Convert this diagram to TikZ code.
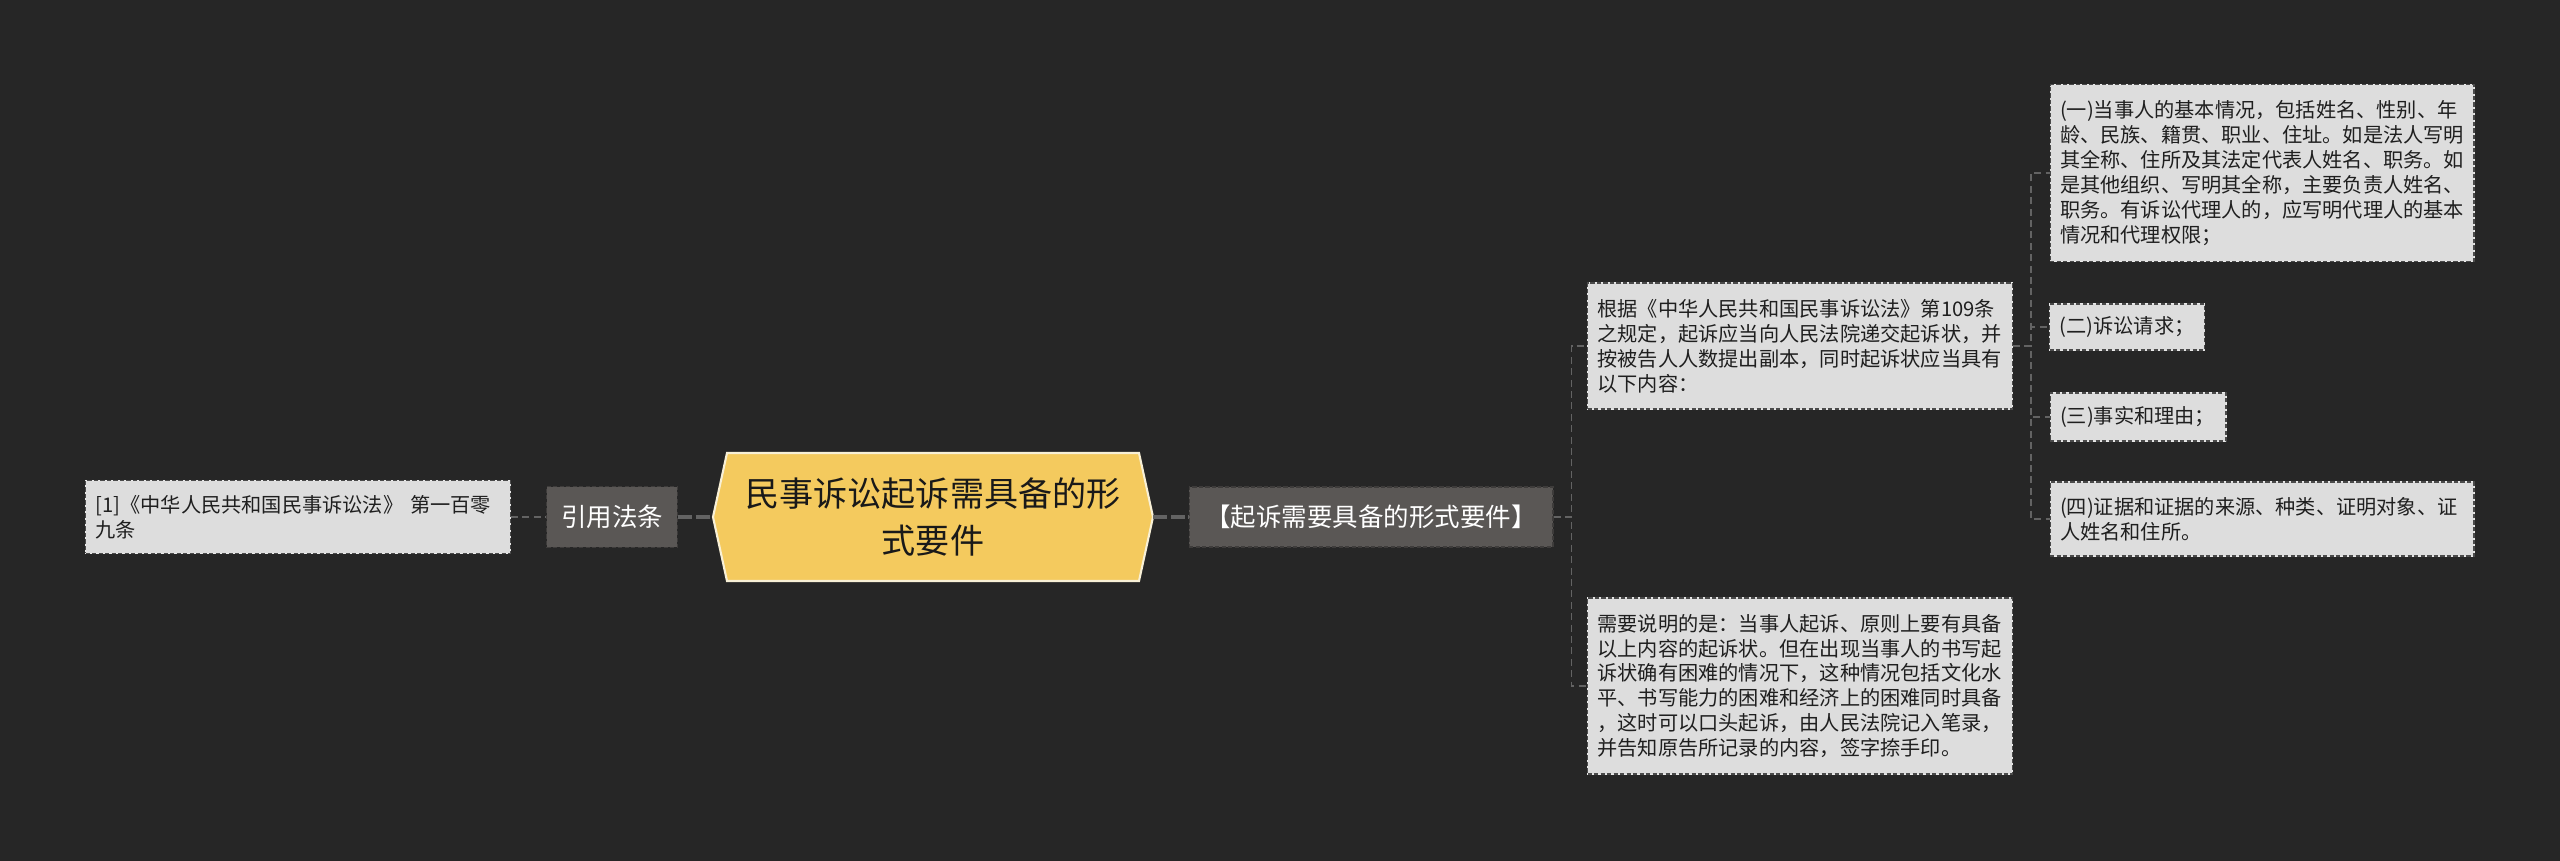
\documentclass[tikz,border=0pt]{standalone}
\usepackage{fontspec}
\setmainfont{Noto Sans CJK SC}

\definecolor{bgc}{HTML}{262626}
\definecolor{leaff}{HTML}{DDDDDD}
\definecolor{leafd}{HTML}{4A4A4A}
\definecolor{tagf}{HTML}{5A5755}
\definecolor{tagd}{HTML}{3E3C3B}
\definecolor{rootf}{HTML}{F4CA5E}
\definecolor{rootd}{HTML}{F8F0D6}
\definecolor{linec}{HTML}{636363}

\begin{document}
\begin{tikzpicture}[x=0.02cm,y=-0.02cm,
  leaf/.style={fill=leaff,draw=leafd,line width=0.6pt,dash pattern=on 2.5pt off 1.2pt,
    preaction={draw=white!92!black,solid,line width=0.6pt},
    text=black!88,font=\fontsize{11.5pt}{14.2pt}\selectfont,align=left,
    inner xsep=0.2cm,inner ysep=0pt},
  tag/.style={fill=tagf,draw=tagd,line width=0.6pt,dash pattern=on 2.5pt off 1.2pt,
    text=white,font=\fontsize{14.5pt}{17pt}\selectfont,inner sep=0pt},
  hexa/.style={fill=rootf,draw=rootd,line width=1.2pt},
  link/.style={draw=linec,line width=1.1pt,dash pattern=on 4pt off 2.5pt},
  trunk/.style={link,line width=1.9pt,dash pattern=on 8pt off 2pt}]

\fill[bgc] (0,0) rectangle (2560,861);

\filldraw[hexa] (713,517) -- (727,453) -- (1139,453) -- (1153,517) -- (1139,581) -- (727,581) -- cycle;

\node (v3) at (933,517) [minimum width=8.8cm,minimum height=2.56cm,align=center,text=black!90,
  font=\fontsize{19.4pt}{26.7pt}\selectfont] {民事诉讼起诉需具备的形\\式要件};
\node[tag] (v2) at (612,517) [minimum width=2.62cm,minimum height=1.22cm] {引用法条};
\node[leaf] (v1) at (298,517) [text width=8.1cm,minimum height=1.46cm] {[1]《中华人民共和国民事诉讼法》 第一百零\\九条};
\node[tag] (v4) at (1371,517) [minimum width=7.28cm,minimum height=1.2cm] {【起诉需要具备的形式要件】};

\node[leaf] (v5) at (1800,346) [text width=8.1cm,minimum height=2.52cm] {根据《中华人民共和国民事诉讼法》第109条\\之规定，起诉应当向人民法院递交起诉状，并\\按被告人人数提出副本，同时起诉状应当具有\\以下内容：};
\node[leaf] (v6) at (1800,686) [text width=8.1cm,minimum height=3.52cm] {需要说明的是：当事人起诉、原则上要有具备\\以上内容的起诉状。但在出现当事人的书写起\\诉状确有困难的情况下，这种情况包括文化水\\平、书写能力的困难和经济上的困难同时具备\\，这时可以口头起诉，由人民法院记入笔录，\\并告知原告所记录的内容，签字捺手印。};

\node[leaf] (v7) at (2262,173) [text width=8.08cm,minimum height=3.54cm] {(一)当事人的基本情况，包括姓名、性别、年\\龄、民族、籍贯、职业、住址。如是法人写明\\其全称、住所及其法定代表人姓名、职务。如\\是其他组织、写明其全称，主要负责人姓名、\\职务。有诉讼代理人的，应写明代理人的基本\\情况和代理权限；};
\node[leaf] (v8) at (2127,327) [text width=2.7cm,minimum height=0.92cm] {(二)诉讼请求；};
\node[leaf] (v9) at (2138,417) [text width=3.12cm,minimum height=0.96cm] {(三)事实和理由；};
\node[leaf] (v10) at (2262,519) [text width=8.08cm,minimum height=1.48cm] {(四)证据和证据的来源、种类、证明对象、证\\人姓名和住所。};

\draw[link] (v1) -- (v2);
\draw[trunk] (v2) -- (v3);
\draw[trunk] (v3) -- (v4);

\draw[link] (v4.east) -- ++(18,0) |- (v5.west);
\draw[link] (v4.east) -- ++(18,0) |- (v6.west);

\draw[link] (v5.east) -- ++(18,0) |- (v7.west);
\draw[link] (v5.east) -- ++(18,0) |- (v8.west);
\draw[link] (v5.east) -- ++(18,0) |- (v9.west);
\draw[link] (v5.east) -- ++(18,0) |- (v10.west);

\end{tikzpicture}
\end{document}
